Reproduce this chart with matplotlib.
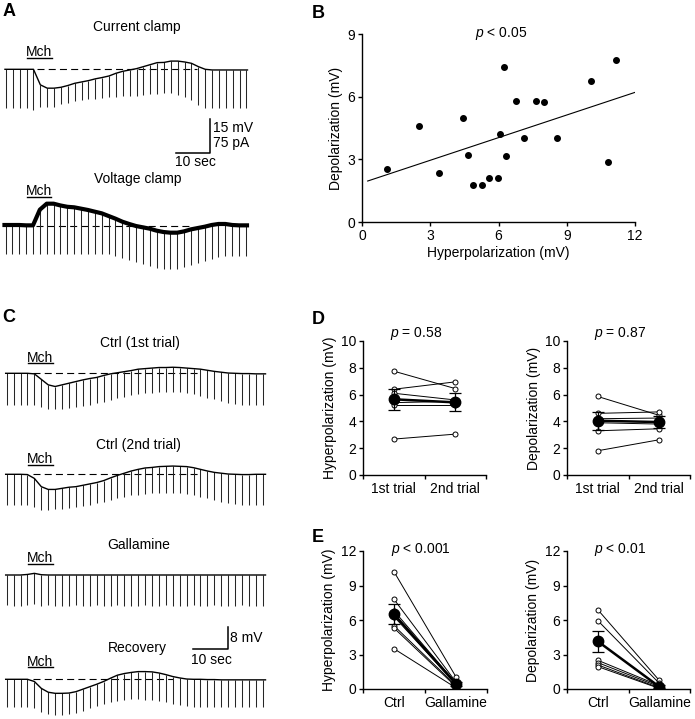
import numpy as np
import matplotlib
matplotlib.use("Agg")
import matplotlib.pyplot as plt

plt.rcParams['font.family'] = ['Liberation Sans', 'DejaVu Sans']
plt.rcParams['mathtext.fontset'] = 'custom'
plt.rcParams['mathtext.it'] = 'Liberation Sans:italic'
plt.rcParams['mathtext.rm'] = 'Liberation Sans'

# ---------------- DATA ----------------
# Panel A: sample value at each 2-s test pulse (relative to rest) and pulse bottoms
pulse_interval = 2.0  # s
mch_on, mch_off = 6.2, 13.3  # s, muscarine (Mch) application bar

cc_level = [0, 0, 0, 0, 0, -7.0, -8.5, -8.5, -8.1, -7.3, -6.3, -5.7, -5.1, -4.3, -3.7, -3.0,
            -1.8, -0.9, -0.3, 0.3, 1.2, 2.1, 3.0, 3.1, 3.7, 3.7, 3.3, 2.7, 1.2, 0, -0.3, -0.3,
            -0.3, -0.3, -0.3, -0.3]  # mV
cc_bottom = [-17.5, -17.5, -17.5, -17.5, -18.3, -16.8, -16.8, -16.8, -15.6, -15.0, -14.2, -13.8,
             -13.5, -13.3, -13.0, -12.6, -12.4, -12.2, -12.0, -12.0, -11.5, -11.3, -11.0, -10.8,
             -10.8, -11.5, -12.3, -13.8, -16.0, -17.5, -17.5, -17.5, -17.5, -17.5, -17.5, -17.5]  # mV

vc_level = [0, 0, 0, -0.8, -0.8, 34.5, 48, 48, 44, 41, 39.8, 36.8, 33.8, 30, 26.3, 20.3, 14.3,
            7.5, 2.3, -2.3, -5.3, -8.3, -12.8, -15.8, -17.3, -17.3, -14.3, -9.8, -6.8, -3.8, 0,
            2.3, 2.3, 0, -0.8, -0.8]  # pA
vc_bottom = [-65.3] * 16 + [-69.8, -74.3, -78.8, -83.3, -87.8, -92.3, -96.8, -99.0, -99.0, -99.0,
                            -94.5, -90.0, -85.5, -81.0, -76.5, -72.0, -69.8, -69.8, -69.8, -69.8]  # pA

# Panel B
hyper_b = [1.10, 2.51, 3.39, 4.44, 4.64, 4.89, 5.27, 5.57, 5.96, 6.06, 6.25, 6.31, 6.75, 7.13,
           7.63, 7.99, 8.55, 10.05, 10.80, 11.16]
depol_b = [2.55, 4.58, 2.34, 5.00, 3.22, 1.79, 1.79, 2.13, 2.13, 4.23, 7.43, 3.14, 5.80, 4.04,
           5.80, 5.73, 4.04, 6.74, 2.87, 7.75]

# Panel C traces (mV relative to rest at each pulse) and pulse bottoms
c1_level = [0, 0, 0, 0, -0.2, -2.2, -4.2, -4.8, -4.2, -3.6, -3.0, -2.4, -1.9, -1.5, -0.8, -0.2,
            0.2, 0.6, 1.0, 1.5, 1.7, 1.9, 2.1, 2.1, 2.2, 2.1, 1.9, 1.7, 1.5, 1.1, 0.7, 0.4, 0.1, 0,
            -0.1, -0.1, -0.2, -0.2]
c1_bottom = [-11.5, -11.5, -11.5, -11.5, -11.5, -12.4, -13.1, -13.1, -13.1, -12.7, -12.4, -11.9,
             -11.4, -10.9, -10.3, -9.7, -9.1, -8.5, -7.9, -7.5, -7.3, -7.0, -6.9, -6.8, -6.8, -6.9,
             -7.3, -7.6, -8.2, -8.8, -9.5, -10.1, -10.7, -11.2, -11.4, -11.5, -11.5, -11.5]
c2_level = [0, 0, 0, -0.1, -1.5, -4.5, -5.5, -5.5, -5.1, -4.7, -4.5, -4.0, -3.5, -3.0, -2.3, -1.3,
            -0.4, 0.4, 1.2, 1.8, 2.3, 2.5, 2.8, 2.9, 3.0, 2.9, 2.8, 2.4, 1.8, 1.2, 0.7, 0.4, 0.1, 0,
            -0.1, -0.1, 0, 0]
c2_bottom = [-11.2, -11.2, -11.2, -11.2, -11.8, -13.0, -13.0, -12.7, -12.5, -12.1, -11.8, -11.4,
             -11.0, -10.5, -9.9, -9.3, -8.7, -8.1, -7.6, -7.4, -7.2, -6.9, -6.8, -6.7, -6.7, -6.8,
             -7.2, -7.6, -8.1, -8.7, -9.3, -9.9, -10.5, -10.9, -11.2, -11.2, -11.2, -11.2]
c3_level = [0, 0, 0, 0.2, 0.6, 0.1, 0, 0, 0, 0, 0, 0, 0, 0, 0, 0, 0, 0, 0, 0, 0, 0, 0, 0, 0, 0,
            0, 0, 0, 0, 0, 0, 0, 0, 0, 0, 0, 0]
c3_bottom = [-11.0, -11.3, -11.3, -11.0, -10.6, -11.3, -11.0, -11.3, -11.2, -11.4, -11.0, -11.3,
             -11.2, -11.0, -11.4, -11.2, -11.0, -11.3, -11.2, -11.3, -11.0, -11.4, -11.2, -11.0,
             -11.3, -11.2, -11.4, -11.0, -11.3, -11.2, -11.0, -11.4, -11.2, -11.3, -11.0, -11.2,
             -11.3, -11.2]
c4_level = [0, 0, 0, 0, -0.8, -3.3, -4.7, -5.1, -5.1, -5.0, -4.5, -3.6, -2.7, -1.8, -0.8, 0.4,
            1.5, 2.1, 2.5, 2.8, 2.8, 2.7, 2.3, 1.7, 1.0, 0.5, 0.1, 0, 0, -0.1, -0.1, -0.2, -0.2,
            -0.2, -0.2, -0.2, -0.2, -0.2]
c4_bottom = [-9.9, -9.9, -9.9, -9.9, -10.5, -11.8, -12.6, -13.0, -13.0, -12.7, -12.1, -11.4,
             -10.5, -9.7, -9.0, -8.2, -7.8, -7.5, -7.3, -7.3, -7.4, -7.5, -7.9, -8.4, -9.0, -9.5,
             -9.7, -9.9, -9.9, -9.9, -9.9, -9.9, -9.9, -9.9, -9.9, -9.9, -9.9, -9.9]

# Panel D (1st trial vs 2nd trial)
d_hyp_1 = [7.75, 6.40, 6.10, 5.40, 5.25, 2.68]
d_hyp_2 = [6.45, 6.95, 5.60, 5.50, 5.25, 3.05]
d_hyp_mean = [5.65, 5.42]
d_hyp_sem = [0.80, 0.68]
d_dep_1 = [5.86, 4.60, 4.20, 3.90, 3.30, 1.81]
d_dep_2 = [4.45, 4.71, 4.25, 3.80, 3.45, 2.63]
d_dep_mean = [4.05, 3.95]
d_dep_sem = [0.67, 0.47]
d_labels = ['1st trial', '2nd trial']

# Panel E (Ctrl vs Gallamine)
e_hyp_1 = [10.2, 7.8, 6.8, 6.3, 5.5, 5.3, 3.5]
e_hyp_2 = [1.05, 0.6, 0.5, 0.4, 0.3, 0.2, 0.1]
e_hyp_mean = [6.5, 0.45]
e_hyp_sem = [0.87, 0.15]
e_dep_1 = [6.9, 5.95, 2.5, 2.3, 2.1, 1.95]
e_dep_2 = [0.75, 0.5, 0.3, 0.2, 0.1, 0.05]
e_dep_mean = [4.15, 0.2]
e_dep_sem = [0.92, 0.12]
e_labels = ['Ctrl', 'Gallamine']

# ---------------- FIGURE ----------------
W, H = 695, 719
fig = plt.figure(figsize=(W / 100, H / 100), dpi=100)


def px_axes(x0, y0, x1, y1):
    return fig.add_axes([x0 / W, 1 - y1 / H, (x1 - x0) / W, (y1 - y0) / H])


def ftext(x, y, s, **kw):
    kw.setdefault('ha', 'center')
    kw.setdefault('va', 'center')
    kw.setdefault('fontsize', 10)
    fig.text(x / W, 1 - y / H, s, **kw)


def trace_axes(x_origin, base, sx, sy, top, bottom, left=0, right=300):
    ax = px_axes(left, top, right, bottom)
    ax.set_xlim((left - x_origin) / sx, (right - x_origin) / sx)
    ax.set_ylim((base - bottom) / sy, (base - top) / sy)
    ax.axis('off')
    return ax


def draw_trace(ax, level, bottoms, lw=1.0, tail=0.8, pulse_lw=0.75):
    t = np.arange(len(level)) * pulse_interval
    tl = np.concatenate([[-0.3], t, [t[-1] + tail]])
    yl = np.concatenate([[level[0]], level, [level[-1]]])
    ax.plot(tl, yl, color='k', lw=lw, solid_joinstyle='round', zorder=3)
    ax.vlines(t, bottoms, level, color='0.15', lw=pulse_lw, zorder=2)


def mch(ax, y):
    ax.plot([mch_on, mch_off], [y, y], color='k', lw=1.0, clip_on=False)
    ax.annotate('Mch', xy=((mch_on + mch_off) / 2, y), xytext=(0, 1.2),
                textcoords='offset points', ha='center', va='baseline', fontsize=10)


def dashed(ax, t0, t1, y=0):
    ax.plot([t0, t1], [y, y], color='k', lw=0.8, ls=(0, (6.3, 3.8)), zorder=1)


# Panel labels
for lab, x, y in [('A', 9, 12), ('B', 318, 13), ('C', 9, 318), ('D', 318, 319), ('E', 318, 537)]:
    ftext(x, y, lab, fontsize=13, fontweight='bold')

# ---- Panel A ----
ftext(137, 27, 'Current clamp')
ax = trace_axes(6, 69.3, 3.435, 2.22, 40, 170)
draw_trace(ax, cc_level, cc_bottom, lw=1.0, tail=0.3)
mch(ax, 5.1)
dashed(ax, 9.0, 55.6)
sb_t, sb_v = 59.4, -37.6
ax.plot([sb_t - 10, sb_t, sb_t], [sb_v, sb_v, sb_v + 15], color='k', lw=1.1, clip_on=False)
ftext(213, 128, '15 mV', ha='left')
ftext(213, 143.5, '75 pA', ha='left')
ftext(195, 162.5, '10 sec')

ftext(138, 179.5, 'Voltage clamp')
ax = trace_axes(5.5, 225, 3.435, 0.444, 180, 275)
draw_trace(ax, vc_level, vc_bottom, lw=3.0, tail=0.3)
mch(ax, 63.7)
dashed(ax, 9.0, 54.3, -2)

# ---- Panel B ----
axb = px_axes(362, 34, 635, 222)
axb.scatter(hyper_b, depol_b, s=16, color='k', zorder=3)
slope, intercept = np.polyfit(hyper_b, depol_b, 1)
xl = np.array([0.25, 12])
axb.plot(xl, slope * xl + intercept, color='k', lw=0.8)
axb.set_xlim(0, 12)
axb.set_ylim(0, 9)
axb.set_xticks([0, 3, 6, 9, 12])
axb.set_yticks([0, 3, 6, 9])
axb.set_xlabel('Hyperpolarization (mV)', fontsize=10, labelpad=2)
axb.set_ylabel('Depolarization (mV)', fontsize=10, labelpad=3)
ftext(501, 33, r'$\it{p}$ < 0.05')

# ---- Panel C ----
c_sx, c_sy = 3.46, 2.75
ftext(140, 343.5, 'Ctrl (1st trial)')
ax = trace_axes(6.7, 373.3, c_sx, c_sy, 350, 420)
draw_trace(ax, c1_level, c1_bottom)
mch(ax, 3.6)
dashed(ax, 7.6, 55.9)

ftext(138.5, 445, 'Ctrl (2nd trial)')
ax = trace_axes(6.7, 474.3, c_sx, c_sy, 450, 520)
draw_trace(ax, c2_level, c2_bottom)
mch(ax, 3.4)
dashed(ax, 7.6, 55.9)

ftext(138.5, 545, 'Gallamine')
ax = trace_axes(6.7, 575, c_sx, c_sy, 552, 620)
draw_trace(ax, c3_level, c3_bottom)
mch(ax, 4.0)

ftext(137, 648, 'Recovery')
ax = trace_axes(6.7, 679.3, c_sx, c_sy, 620, 719)
draw_trace(ax, c4_level, c4_bottom)
mch(ax, 4.4)
dashed(ax, 7.6, 48.1)
sb_t, sb_v = 63.9, 10.9
ax.plot([sb_t - 10, sb_t, sb_t], [sb_v, sb_v, sb_v + 8], color='k', lw=1.1, clip_on=False)
ftext(230, 638.5, '8 mV', ha='left')
ftext(211.5, 660, '10 sec')


# ---- Panels D & E ----
def paired(box, first, second, mean, sem, labels, ylim, yticks, ylabel, ptxt, pxy):
    ax = px_axes(*box)
    for a, b in zip(first, second):
        ax.plot([0.5, 1.5], [a, b], color='k', lw=0.7, marker='o', ms=3.6,
                mfc='white', mec='k', mew=0.7, zorder=2)
    ax.errorbar([0.5, 1.5], mean, yerr=sem, fmt='-o', color='k', ms=7.5, lw=1.8,
                elinewidth=0.9, capsize=4, capthick=0.9, zorder=4)
    ax.set_xlim(0, 2)
    ax.set_ylim(*ylim)
    ax.set_yticks(yticks)
    ax.set_xticks([0, 1, 2])
    ax.set_xticklabels([])
    ax.set_xticks([0.5, 1.5], minor=True)
    ax.set_xticklabels(labels, minor=True, fontsize=10)
    ax.tick_params(axis='x', which='minor', length=0, pad=5)
    ax.set_ylabel(ylabel, fontsize=10, labelpad=3)
    ftext(pxy[0], pxy[1], ptxt)
    return ax


paired((363, 341, 486, 475), d_hyp_1, d_hyp_2, d_hyp_mean, d_hyp_sem, d_labels, (0, 10),
       [0, 2, 4, 6, 8, 10], 'Hyperpolarization (mV)', r'$\it{p}$ = 0.58', (416, 333))
paired((567, 341, 690, 475), d_dep_1, d_dep_2, d_dep_mean, d_dep_sem, d_labels, (0, 10),
       [0, 2, 4, 6, 8, 10], 'Depolarization (mV)', r'$\it{p}$ = 0.87', (620, 333))
paired((363, 551, 487, 689), e_hyp_1, e_hyp_2, e_hyp_mean, e_hyp_sem, e_labels, (0, 12),
       [0, 3, 6, 9, 12], 'Hyperpolarization (mV)', r'$\it{p}$ < 0.001', (421, 550))
paired((567, 551, 690, 689), e_dep_1, e_dep_2, e_dep_mean, e_dep_sem, e_labels, (0, 12),
       [0, 3, 6, 9, 12], 'Depolarization (mV)', r'$\it{p}$ < 0.01', (620, 550))

for a in fig.axes:
    if a.axison:
        a.spines['top'].set_visible(False)
        a.spines['right'].set_visible(False)
        a.spines['left'].set_linewidth(1.0)
        a.spines['bottom'].set_linewidth(1.0)
        a.tick_params(which='major', direction='out', length=3, width=1.0, labelsize=10, pad=2)

fig.savefig('out.png', dpi=100)
